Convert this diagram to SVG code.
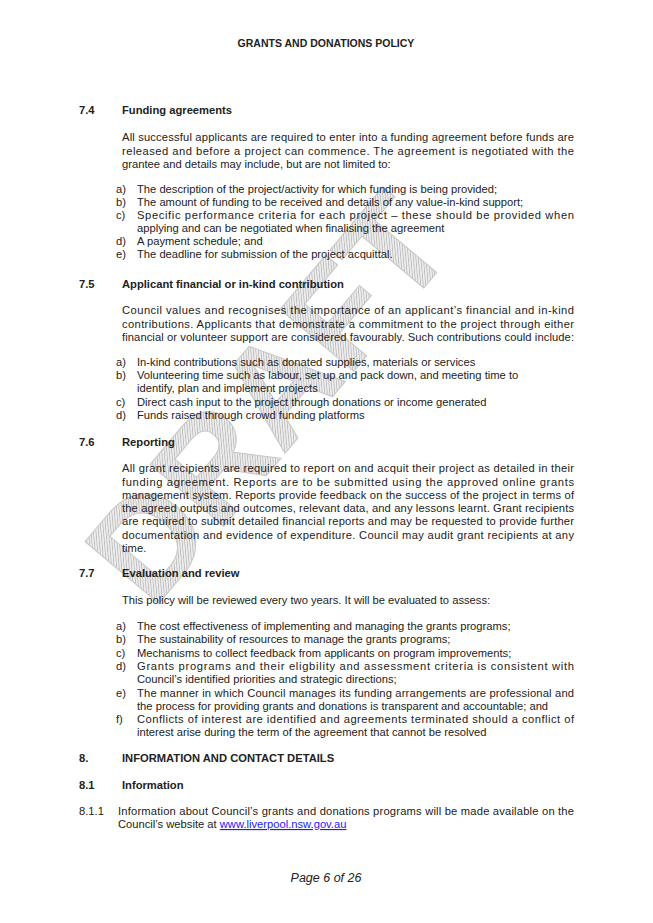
<svg xmlns="http://www.w3.org/2000/svg" width="653" height="923" viewBox="0 0 653 923">
<defs>
<pattern id="hatch" width="2.5" height="2.5" patternUnits="userSpaceOnUse" patternTransform="rotate(45)">
<rect width="2.5" height="2.5" fill="#ededed"/>
<line x1="0" y1="0" x2="0" y2="2.5" stroke="#aaaaaa" stroke-width="1.2"/>
</pattern>
<style>
text{font-family:"Liberation Sans",Arial,sans-serif;font-size:11.2px;fill:#222}
.h{font-weight:bold}
</style>
</defs>
<rect width="653" height="923" fill="#fff"/>
<g id="watermark">
<text x="268" y="398" transform="rotate(-50 268 398)" text-anchor="middle" dominant-baseline="central" style="font-size:140px;font-weight:bold;fill:url(#hatch);stroke:#c8c8c8;stroke-width:1">DRAFT</text>
</g>
<g id="page">
<text class="h" x="326" y="47" text-anchor="middle" style="font-size:10.5px">GRANTS AND DONATIONS POLICY</text>

<text class="h" x="79" y="114">7.4</text><text class="h" x="122" y="114">Funding agreements</text>
<text x="122" y="141" textLength="452" lengthAdjust="spacing">All successful applicants are required to enter into a funding agreement before funds are</text>
<text x="122" y="155" textLength="452" lengthAdjust="spacing">released and before a project can commence. The agreement is negotiated with the</text>
<text x="122" y="168">grantee and details may include, but are not limited to:</text>
<text x="116" y="193">a)</text><text x="137" y="193">The description of the project/activity for which funding is being provided;</text>
<text x="116" y="206">b)</text><text x="137" y="206">The amount of funding to be received and details of any value-in-kind support;</text>
<text x="116" y="219">c)</text><text x="137" y="219" textLength="437" lengthAdjust="spacing">Specific performance criteria for each project – these should be provided when</text>
<text x="137" y="232">applying and can be negotiated when finalising the agreement</text>
<text x="116" y="245">d)</text><text x="137" y="245">A payment schedule; and</text>
<text x="116" y="258">e)</text><text x="137" y="258">The deadline for submission of the project acquittal.</text>

<text class="h" x="79" y="288">7.5</text><text class="h" x="122" y="288">Applicant financial or in-kind contribution</text>
<text x="122" y="314" textLength="452" lengthAdjust="spacing">Council values and recognises the importance of an applicant’s financial and in-kind</text>
<text x="122" y="328" textLength="452" lengthAdjust="spacing">contributions. Applicants that demonstrate a commitment to the project through either</text>
<text x="122" y="341" textLength="452" lengthAdjust="spacing">financial or volunteer support are considered favourably. Such contributions could include:</text>
<text x="116" y="366">a)</text><text x="137" y="366">In-kind contributions such as donated supplies, materials or services</text>
<text x="116" y="379">b)</text><text x="137" y="379">Volunteering time such as labour, set up and pack down, and meeting time to</text>
<text x="137" y="392">identify, plan and implement projects</text>
<text x="116" y="406">c)</text><text x="137" y="406">Direct cash input to the project through donations or income generated</text>
<text x="116" y="419">d)</text><text x="137" y="419">Funds raised through crowd funding platforms</text>

<text class="h" x="79" y="446">7.6</text><text class="h" x="122" y="446">Reporting</text>
<text x="122" y="472" textLength="452" lengthAdjust="spacing">All grant recipients are required to report on and acquit their project as detailed in their</text>
<text x="122" y="486" textLength="452" lengthAdjust="spacing">funding agreement. Reports are to be submitted using the approved online grants</text>
<text x="122" y="499" textLength="452" lengthAdjust="spacing">management system. Reports provide feedback on the success of the project in terms of</text>
<text x="122" y="512" textLength="452" lengthAdjust="spacing">the agreed outputs and outcomes, relevant data, and any lessons learnt. Grant recipients</text>
<text x="122" y="525" textLength="452" lengthAdjust="spacing">are required to submit detailed financial reports and may be requested to provide further</text>
<text x="122" y="539" textLength="452" lengthAdjust="spacing">documentation and evidence of expenditure. Council may audit grant recipients at any</text>
<text x="122" y="552">time.</text>

<text class="h" x="79" y="577">7.7</text><text class="h" x="122" y="577">Evaluation and review</text>
<text x="122" y="604">This policy will be reviewed every two years. It will be evaluated to assess:</text>
<text x="116" y="630">a)</text><text x="137" y="630">The cost effectiveness of implementing and managing the grants programs;</text>
<text x="116" y="643">b)</text><text x="137" y="643">The sustainability of resources to manage the grants programs;</text>
<text x="116" y="657">c)</text><text x="137" y="657">Mechanisms to collect feedback from applicants on program improvements;</text>
<text x="116" y="670">d)</text><text x="137" y="670" textLength="437" lengthAdjust="spacing">Grants programs and their eligbility and assessment criteria is consistent with</text>
<text x="137" y="683">Council’s identified priorities and strategic directions;</text>
<text x="116" y="697">e)</text><text x="137" y="697" textLength="437" lengthAdjust="spacing">The manner in which Council manages its funding arrangements are professional and</text>
<text x="137" y="710">the process for providing grants and donations is transparent and accountable; and</text>
<text x="116" y="723">f)</text><text x="137" y="723" textLength="437" lengthAdjust="spacing">Conflicts of interest are identified and agreements terminated should a conflict of</text>
<text x="137" y="736">interest arise during the term of the agreement that cannot be resolved</text>

<text class="h" x="79" y="762">8.</text><text class="h" x="122" y="762">INFORMATION AND CONTACT DETAILS</text>
<text class="h" x="79" y="789">8.1</text><text class="h" x="122" y="789">Information</text>
<text x="79" y="815">8.1.1</text><text x="118" y="815" textLength="456" lengthAdjust="spacing">Information about Council’s grants and donations programs will be made available on the</text>
<text x="118" y="828">Council’s website at <tspan style="fill:#1a1aff;text-decoration:underline">www.liverpool.nsw.gov.au</tspan></text>

<text x="326" y="882" text-anchor="middle" style="font-size:12.5px;font-style:italic">Page 6 of 26</text>
</g>
</svg>
